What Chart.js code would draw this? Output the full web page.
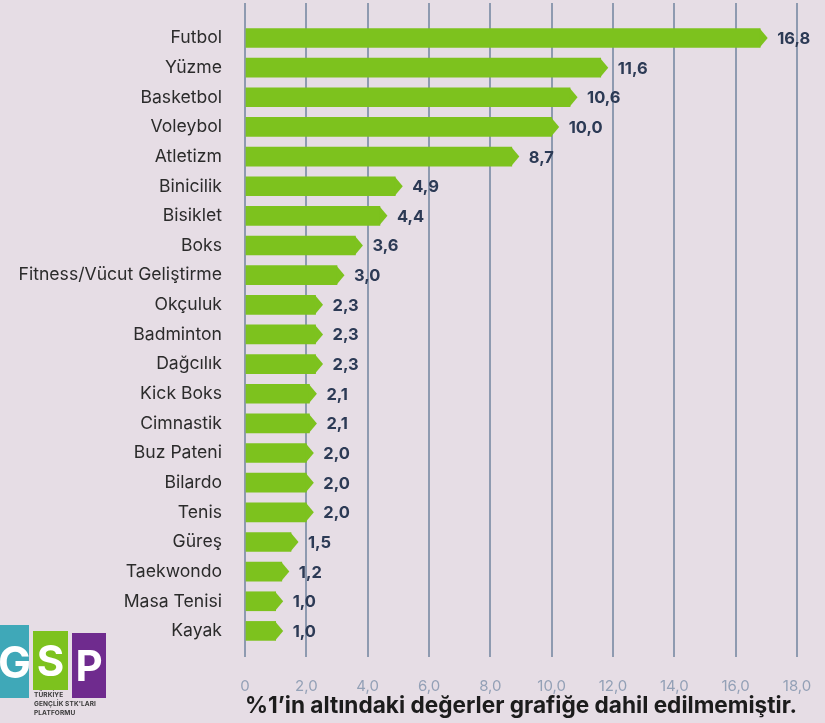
<!DOCTYPE html>
<html>
<head>
<meta charset="utf-8">
<script src="https://cdn.jsdelivr.net/npm/chart.js@4.4.1/dist/chart.umd.min.js"></script>
<style>
  html, body { margin: 0; padding: 0; background: #e6dde5; }
  #wrap { position: relative; width: 825px; height: 723px; overflow: hidden; }
  canvas { position: absolute; left: 0; top: 0; }
  .box { position: absolute; color: #fff; font-family: Inter, sans-serif; font-weight: 700; display: flex; align-items: center; justify-content: center; }
  .lg { position: absolute; font-family: Inter, sans-serif; font-weight: 700; font-size: 6.5px; color: #3a3a3a; line-height: 9px; white-space: nowrap; letter-spacing: 0.1px; }
</style>
</head>
<body>
<div id="wrap">
  <canvas id="c" width="825" height="723"></canvas>
  <div class="box" style="left:0;top:625px;width:29px;height:73px;background:#3fa8b8;font-size:44px;">G</div>
  <div class="box" style="left:33px;top:631px;width:35px;height:59px;background:#7dc21e;font-size:42px;">S</div>
  <div class="box" style="left:72px;top:633px;width:34px;height:65px;background:#6f2b8e;font-size:42px;">P</div>
  <div class="lg" style="left:34px;top:691px;">TÜRKİYE<br>GENÇLİK STK'LARI<br>PLATFORMU</div>
</div>
<script>
const categories = ["Futbol","Yüzme","Basketbol","Voleybol","Atletizm","Binicilik","Bisiklet","Boks","Fitness/Vücut Geliştirme","Okçuluk","Badminton","Dağcılık","Kick Boks","Cimnastik","Buz Pateni","Bilardo","Tenis","Güreş","Taekwondo","Masa Tenisi","Kayak"];
const values = [16.8,11.6,10.6,10.0,8.7,4.9,4.4,3.6,3.0,2.3,2.3,2.3,2.1,2.1,2.0,2.0,2.0,1.5,1.2,1.0,1.0];
const xTicks = [0,2,4,6,8,10,12,14,16,18];
const footnote = "%1’in altındaki değerler grafiğe dahil edilmemiştir.";

const fmt = v => v === 0 ? '0' : v.toFixed(1).replace('.', ',');

const arrowLabels = {
  id: 'arrowLabels',
  afterDatasetsDraw(chart) {
    const ctx = chart.ctx;
    const meta = chart.getDatasetMeta(0);
    ctx.save();
    meta.data.forEach((bar, i) => {
      const {x, y, height} = bar.getProps(['x','y','height'], true);
      const h = height / 2;
      ctx.fillStyle = '#7dc21e';
      ctx.beginPath();
      ctx.moveTo(x - 0.5, y - h);
      ctx.lineTo(x + 7.5, y);
      ctx.lineTo(x - 0.5, y + h);
      ctx.closePath();
      ctx.fill();
      ctx.fillStyle = '#2c3a55';
      ctx.font = '700 16.5px Inter';
      ctx.textAlign = 'left';
      ctx.textBaseline = 'middle';
      ctx.fillText(fmt(values[i]), x + 17, y + 1);
    });
    ctx.restore();
  }
};

new Chart(document.getElementById('c'), {
  type: 'bar',
  data: {
    datasets: [{
      data: values.map((v, i) => ({x: v, y: i})),
      backgroundColor: '#7dc21e',
      borderWidth: 0,
      barThickness: 19
    }]
  },
  options: {
    indexAxis: 'y',
    responsive: false,
    animation: false,
    layout: { padding: { top: 3, right: 28, left: 0, bottom: 0 } },
    plugins: { legend: { display: false }, tooltip: { enabled: false } },
    scales: {
      x: {
        type: 'linear',
        min: 0, max: 18,
        afterBuildTicks: s => { s.ticks = xTicks.map(v => ({value: v})); },
        afterFit: s => { s.height = 66; s.paddingLeft = 0; s.paddingRight = 0; },
        grid: { color: '#8e9ab0', lineWidth: 2, drawTicks: false },
        border: { display: false },
        ticks: { callback: v => fmt(v), color: '#93a0b6', font: { family: 'Inter', size: 15 }, padding: 20, maxRotation: 0 },
        title: { display: true, text: footnote, color: '#1c1c1c', font: { family: 'Inter', size: 22.8, weight: '700' }, padding: { top: 0, bottom: 3 } }
      },
      y: {
        type: 'linear',
        reverse: true,
        offset: false,
        min: -1.18, max: 20.88,
        afterBuildTicks: s => { s.ticks = categories.map((c, i) => ({value: i})); },
        afterFit: s => { s.width = 245; s.paddingTop = 0; s.paddingBottom = 0; },
        grid: { display: false, drawTicks: false, offset: false },
        border: { display: false },
        ticks: { autoSkip: false, callback: v => categories[v], color: '#2b2b2b', font: { family: 'Inter', size: 17.6 }, padding: 23 }
      }
    }
  },
  plugins: [arrowLabels]
});
</script>
</body>
</html>
